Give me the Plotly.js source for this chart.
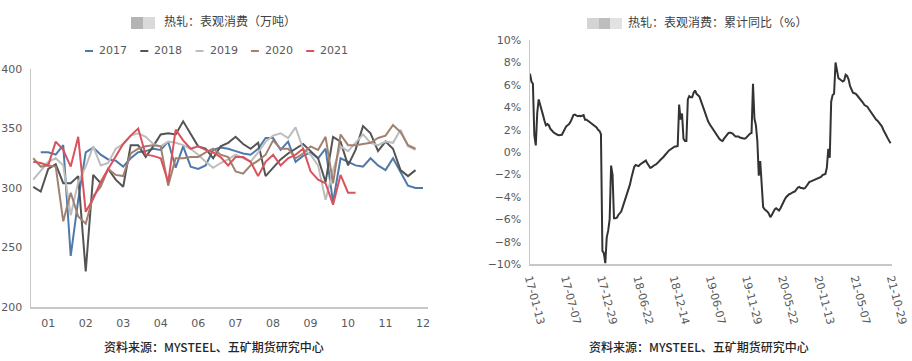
<!DOCTYPE html>
<html><head><meta charset="utf-8">
<script src="https://cdn.plot.ly/plotly-3.0.1.min.js"></script>
<style>html,body{margin:0;padding:0;background:#fff}#chart{width:912px;height:361px}</style>
</head><body><div id="chart"></div>
<script>
// ---------- left chart: weekly apparent consumption (10k t) ----------
const years = ['2017', '2018', '2019', '2020', '2021'];
const yearColors = ['#5079aa', '#545454', '#bdbdbd', '#a28070', '#d9535e'];
const monthLabels = ['01', '02', '03', '04', '06', '07', '08', '09', '10', '11', '12'];
const monthTickIndex = [2, 7, 12, 17, 22, 27, 32, 37, 42, 47, 52];

const c2017 = [null, 330, 330, 328, 336, 243, 290, 330, 334, 328, 324, 323, 318, 325, 330, 331, 333, 332, 339, 317, 335, 318, 316, 319, 332, 334, 333, 331, 329, 328, 333, 342, 342, 332, 339, 322, 327, 330, 325, 333, 288, 325, 322, 319, 318, 325, 319, 315, 325, 313, 302, 300, 300];
const c2018 = [301, 297, 316, 320, 304, 304, 310, 230, 311, 304, 316, 307, 301, 336, 336, 326, 335, 345, 346, 345, 356, 345, 335, 333, 325, 335, 338, 343, 337, 333, 338, 310, 317, 324, 329, 333, 337, 331, 325, 305, 343, 339, 319, 332, 352, 346, 331, 339, 333, 315, 310, 315, null];
const c2019 = [307, 315, 322, 325, 319, 277, 305, 318, 335, 319, 321, 333, 337, 344, 346, 343, 337, 335, 339, 338, 336, 333, 328, 322, 317, 321, 324, 328, 325, 322, 330, 339, 344, 346, 342, 351, 333, 328, 319, 290, 315, 335, 331, 338, 345, 338, 336, 339, 338, 349, 335, 332, null];
const c2020 = [325, 318, 319, 318, 272, 296, 276, 270, 293, 301, 316, 311, 310, 329, 333, 335, 336, 335, 302, 325, 325, 326, 326, 330, 333, 328, 326, 314, 312, 319, 323, 328, 340, 333, 333, 325, 329, 335, 332, 343, 304, 345, 336, 336, 337, 338, 342, 344, 353, 347, 336, 333, null];
const c2021 = [322, 321, 319, 339, 332, 318, 343, 280, 291, 305, 316, 326, 337, 344, 350, 328, 327, 325, 305, 349, 340, 333, 335, 332, 330, 326, 319, 326, 326, 322, 310, 322, 328, 319, 325, 328, 333, 314, 307, 304, 286, 311, 296, 296, null, null, null, null, null, null, null, null, null];
const yearSeries = [c2017, c2018, c2019, c2020, c2021];

// ---------- right chart: cumulative YoY (%) ----------
const yoyStartDate = '2017-01-13';
const yoyValues = [
  7.0, 6.3, 6.1, 1.5, 0.6, 3.5, 4.7, 4.3, 3.9, 3.3,
  2.8, 2.4, 2.5, 2.4, 2.1, 1.9, 1.8, 1.7, 1.6, 1.55,
  1.5, 1.5, 1.55, 1.8, 2.1, 2.3, 2.4, 2.5, 2.7, 3.1,
  3.3, 3.35, 3.25, 3.2, 3.25, 3.2, 3.25, 3.3, 2.9, 2.9,
  2.8, 2.7, 2.6, 2.55, 2.4, 2.35, 2.2, 2.0, 1.9, 1.6,
  -8.8, -9.0, -9.9, -7.6, -7.0, -6.0, -1.2, -2.0, -5.9, -5.9,
  -5.85, -5.6, -5.4, -5.3, -4.9, -4.5, -4.2, -3.9, -3.5, -2.9,
  -2.3, -1.8, -1.3, -1.15, -1.2, -1.25, -1.1, -1.0, -0.9, -0.8,
  -0.75, -1.0, -1.2, -1.4, -1.35, -1.2, -1.15, -1.1, -1.0, -0.85,
  -0.7, -0.6, -0.45, -0.3, -0.1, 0.0, 0.15, 0.25, 0.35, 0.45,
  0.5, 0.5, 0.55, 4.25, 2.9, 3.45, 1.2, 1.0, 1.0, 4.7,
  5.0, 4.9, 4.9, 5.3, 5.5, 5.2, 5.1, 4.95, 4.6, 4.2,
  3.8, 3.5, 3.1, 2.75, 2.5, 2.3, 2.2, 2.0, 1.8, 1.55,
  1.3, 1.15, 1.05, 1.0, 1.2, 1.4, 1.55, 1.7, 1.75, 1.7,
  1.65, 1.5, 1.4, 1.4, 1.4, 1.3, 1.25, 1.2, 1.2, 1.25,
  1.4, 1.55, 1.65, 1.7, 6.1, 3.0, 2.4, 1.0, -2.1, -0.8,
  -2.8, -4.9, -5.1, -5.2, -5.3, -5.5, -5.8, -5.6, -5.3, -5.1,
  -5.0, -5.1, -5.2, -5.0, -4.7, -4.4, -4.2, -4.0, -3.85, -3.75,
  -3.7, -3.6, -3.55, -3.5, -3.3, -3.15, -3.1, -3.2, -3.2, -3.25,
  -3.2, -3.0, -2.75, -2.65, -2.6, -2.55, -2.5, -2.4, -2.35, -2.35,
  -2.3, -2.2, -2.05, -2.0, -1.95, -1.4, 0.3, -0.5, 4.5, 5.1,
  5.2, 8.0, 7.4, 6.6, 6.5, 6.4, 6.3, 6.4, 6.9, 6.8,
  6.5, 5.9, 5.5, 5.3, 5.25, 5.2, 5.05, 4.9, 4.8, 4.6,
  4.4, 4.2, 4.1, 4.05, 3.85, 3.65, 3.45, 3.2, 3.0, 2.9,
  2.8, 2.65, 2.5, 2.3, 2.0, 1.8, 1.5, 1.25, 1.0, 0.8
];
const yoyTickLabels = ['17-01-13', '17-07-07', '17-12-29', '18-06-22', '18-12-14', '19-06-07', '19-11-29', '20-05-22', '20-11-13', '21-05-07', '21-10-29'];

const leftTitle = '热轧：表观消费（万吨）';
const rightTitle = '热轧：表观消费：累计同比（%）';
const sourceText = '资料来源：MYSTEEL、五矿期货研究中心';

// ---------- build ----------
const W = 912, H = 361;
const px = x => x / W;
const py = y => 1 - y / H;

const weekIndex = c2017.map((_, i) => i);
const yoyDates = yoyValues.map((_, i) => {
  const d = new Date(Date.parse(yoyStartDate + 'T00:00:00Z') + i * 7 * 86400000);
  return d.toISOString().slice(0, 10);
});
const yoyTickVals = yoyTickLabels.map(s => '20' + s);

const traces = yearSeries.map((vals, k) => ({
  type: 'scatter', mode: 'lines', x: weekIndex, y: vals, name: years[k],
  line: {color: yearColors[k], width: 2}, xaxis: 'x', yaxis: 'y', connectgaps: false
}));
traces.push({
  type: 'scatter', mode: 'lines', x: yoyDates, y: yoyValues, name: 'yoy',
  line: {color: '#333333', width: 2}, xaxis: 'x2', yaxis: 'y2'
});

const tickFont = {family: 'DejaVu Sans, Noto Sans CJK SC', size: 11, color: '#595959'};
const cjkFont = {family: 'DejaVu Sans, Noto Sans CJK SC', size: 12, color: '#404040'};
const srcFont = {family: 'Noto Sans CJK SC', size: 12, color: '#262626', weight: 500};
const axisLine = {showline: true, linecolor: '#c8c8c8', linewidth: 1.5, showgrid: false, zeroline: false, ticks: '', tickfont: tickFont, fixedrange: true};

const annotations = [
  {text: leftTitle, x: px(229.5), y: py(22), xref: 'paper', yref: 'paper', showarrow: false, font: cjkFont, xanchor: 'center', yanchor: 'middle'},
  {text: rightTitle, x: px(626), y: py(23), xref: 'paper', yref: 'paper', showarrow: false, font: cjkFont, xanchor: 'left', yanchor: 'middle'},
  {text: sourceText, x: px(214), y: py(346), xref: 'paper', yref: 'paper', showarrow: false, font: srcFont, xanchor: 'center', yanchor: 'middle'},
  {text: sourceText, x: px(699), y: py(346), xref: 'paper', yref: 'paper', showarrow: false, font: srcFont, xanchor: 'center', yanchor: 'middle'}
];
const shapes = [
  {type: 'rect', xref: 'paper', yref: 'paper', x0: px(131), x1: px(143), y0: py(29), y1: py(17), fillcolor: '#b4b4b4', line: {width: 0}},
  {type: 'rect', xref: 'paper', yref: 'paper', x0: px(143), x1: px(155), y0: py(29), y1: py(17), fillcolor: '#dadada', line: {width: 0}},
  {type: 'rect', xref: 'paper', yref: 'paper', x0: px(587), x1: px(599), y0: py(29), y1: py(18), fillcolor: '#d4d4d4', line: {width: 0}},
  {type: 'rect', xref: 'paper', yref: 'paper', x0: px(599), x1: px(610), y0: py(29), y1: py(18), fillcolor: '#bdbdbd', line: {width: 0}},
  {type: 'rect', xref: 'paper', yref: 'paper', x0: px(610), x1: px(622), y0: py(29), y1: py(18), fillcolor: '#e2e2e2', line: {width: 0}}
];
// legend: short coloured line + year label
years.forEach((yr, k) => {
  const x0 = 85 + 55.3 * k;
  shapes.push({type: 'line', xref: 'paper', yref: 'paper', x0: px(x0), x1: px(x0 + 8), y0: py(51), y1: py(51), line: {color: yearColors[k], width: 2}});
  annotations.push({
    text: yr, x: px(x0 + 12), y: py(51), xref: 'paper', yref: 'paper', showarrow: false,
    xanchor: 'left', yanchor: 'middle', font: tickFont
  });
});

const layout = {
  width: W, height: H, margin: {l: 0, r: 0, t: 0, b: 0},
  paper_bgcolor: '#ffffff', plot_bgcolor: '#ffffff', showlegend: false,
  font: tickFont,
  xaxis: Object.assign({}, axisLine, {domain: [px(31), px(427.5)], range: [-0.3, 52.6], tickmode: 'array', tickvals: monthTickIndex, ticktext: monthLabels, ticklabelstandoff: 5, anchor: 'y'}),
  yaxis: Object.assign({}, axisLine, {domain: [py(307), py(69)], range: [200, 400], dtick: 50, ticklabelstandoff: 5, anchor: 'x'}),
  xaxis2: Object.assign({}, axisLine, {type: 'date', domain: [px(530), px(892)], range: ['2017-01-13', '2021-10-29'], tickmode: 'array', tickvals: yoyTickVals, ticktext: yoyTickLabels, tickangle: 75, ticklabelstandoff: 2, anchor: 'y2'}),
  yaxis2: Object.assign({}, axisLine, {domain: [py(264.3), py(40)], range: [-10, 10], dtick: 2, ticksuffix: '%', ticklabelstandoff: 5, anchor: 'x2'}),
  annotations: annotations, shapes: shapes
};

Plotly.newPlot('chart', traces, layout, {staticPlot: true, displayModeBar: false});
</script>
</body></html>
